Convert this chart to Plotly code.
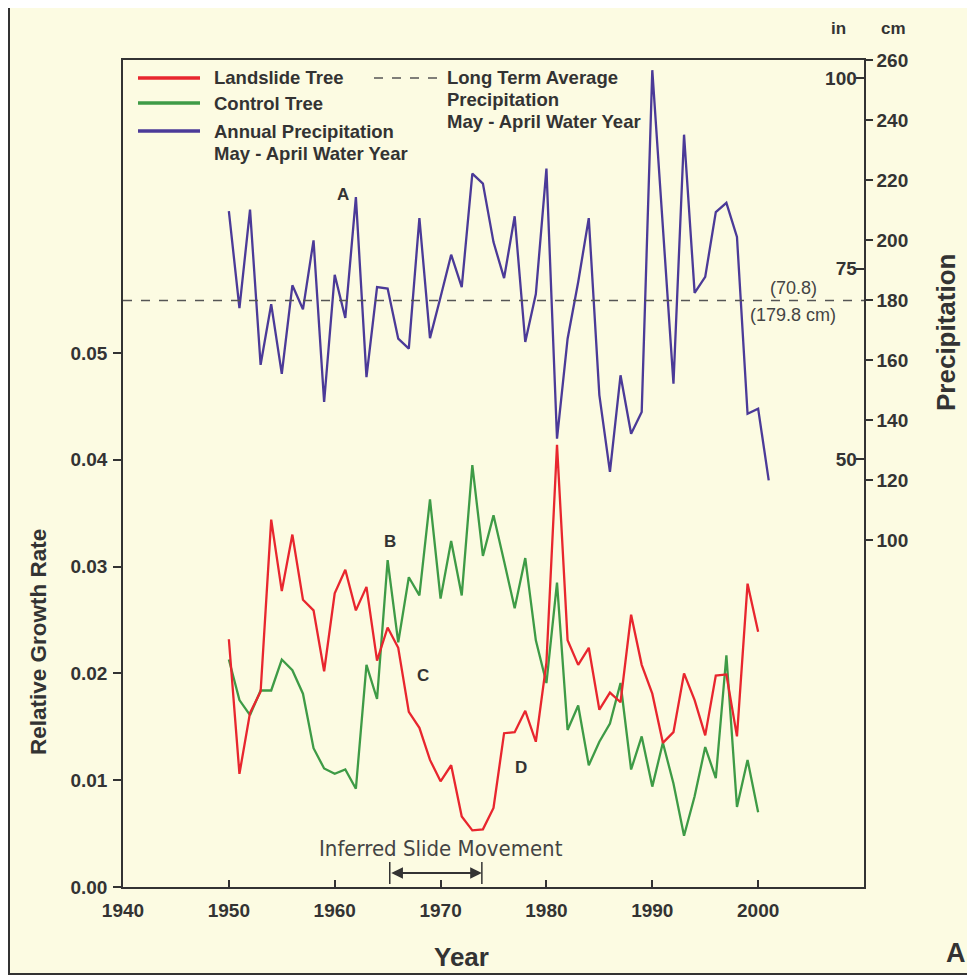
import plotly.graph_objects as go

# ---------------- data ----------------
years_growth = list(range(1950, 2001))
landslide_tree = [0.0232, 0.0106, 0.0163, 0.0183, 0.0344, 0.0277, 0.0330, 0.0269, 0.0259, 0.0202,
                  0.0275, 0.0297, 0.0259, 0.0281, 0.0212, 0.0243, 0.0224, 0.0164, 0.0149, 0.0119,
                  0.0099, 0.0114, 0.0066, 0.0053, 0.0054, 0.0074, 0.0144, 0.0145, 0.0165, 0.0136,
                  0.0210, 0.0414, 0.0231, 0.0208, 0.0224, 0.0166, 0.0182, 0.0173, 0.0255, 0.0208,
                  0.0181, 0.0135, 0.0145, 0.0200, 0.0175, 0.0142, 0.0198, 0.0199, 0.0141, 0.0284,
                  0.0239]
control_tree = [0.0213, 0.0175, 0.0161, 0.0184, 0.0184, 0.0213, 0.0203, 0.0181, 0.0130, 0.0111,
                0.0106, 0.0110, 0.0092, 0.0208, 0.0176, 0.0306, 0.0229, 0.0290, 0.0273, 0.0363,
                0.0270, 0.0324, 0.0273, 0.0395, 0.0310, 0.0348, 0.0305, 0.0261, 0.0308, 0.0231,
                0.0191, 0.0285, 0.0147, 0.0170, 0.0114, 0.0136, 0.0153, 0.0191, 0.0110, 0.0141,
                0.0094, 0.0135, 0.0097, 0.0048, 0.0085, 0.0131, 0.0102, 0.0217, 0.0075, 0.0119,
                0.0070]
years_precip = list(range(1950, 2002))
precip_cm = [209.6, 177.3, 210.1, 158.4, 178.6, 155.4, 184.9, 176.9, 199.9, 146.0,
             188.4, 174.0, 214.3, 154.3, 184.3, 183.8, 167.1, 163.8, 207.3, 167.3,
             181.0, 195.1, 184.3, 222.1, 218.8, 199.3, 187.3, 207.9, 166.0, 182.0,
             223.8, 133.8, 167.1, 186.0, 207.3, 148.3, 122.7, 154.9, 135.4, 142.7,
             256.6, 204.0, 152.1, 235.1, 182.4, 187.7, 209.3, 212.4, 201.0, 142.1,
             143.8, 119.9]
avg_precip_cm = 179.8
avg_precip_in = 70.8

x_ticks = [1940, 1950, 1960, 1970, 1980, 1990, 2000, 2010]
growth_ticks = [0.00, 0.01, 0.02, 0.03, 0.04, 0.05]
cm_ticks = [100, 120, 140, 160, 180, 200, 220, 240, 260]
in_ticks = [50, 75, 100]
slide_start, slide_end = 1965.2, 1973.9

# ---------------- style ----------------
BG = "#FCFBE2"
INK = "#333333"
RED = "#E8262E"
GREEN = "#3E9B46"
PURPLE = "#4B3A98"
SANS = "Liberation Sans, Arial, sans-serif"
NARROW = "Liberation Sans Narrow, Arial Narrow, DejaVu Sans Condensed, Liberation Sans, sans-serif"

OFF = 8                      # page body margin of the browser
W = H = 975 - OFF
L, R, T, B = 123 - OFF, 864 - OFF, 60 - OFF, 887 - OFF


def px(xp):
    return (xp - OFF - L) / (R - L)


def py(yp):
    return (B - (yp - OFF)) / (B - T)


fig = go.Figure()
fig.add_trace(go.Scatter(x=years_growth, y=control_tree, mode="lines",
                         line=dict(color=GREEN, width=2.3), yaxis="y", showlegend=False))
fig.add_trace(go.Scatter(x=years_growth, y=landslide_tree, mode="lines",
                         line=dict(color=RED, width=2.3), yaxis="y", showlegend=False))
fig.add_trace(go.Scatter(x=years_precip, y=precip_cm, mode="lines",
                         line=dict(color=PURPLE, width=2.3), yaxis="y2", showlegend=False))
fig.add_trace(go.Scatter(x=[1940, 2010], y=[avg_precip_cm, avg_precip_cm], mode="lines",
                         line=dict(color="#555555", width=1.5, dash="dash"), yaxis="y2",
                         showlegend=False))

TICKF = 19
cm_lo = 260 - (B - T) / 3.0
fig.update_layout(
    width=W, height=H,
    margin=dict(l=L, r=W - R, t=T, b=H - B),
    paper_bgcolor=BG, plot_bgcolor=BG,
    xaxis=dict(range=[1940, 2010], tickvals=x_ticks, ticks="inside", ticklen=7,
               tickwidth=1.5, tickcolor=INK, showline=True, linecolor=INK, linewidth=1.5,
               mirror=True, showgrid=False, zeroline=False, ticklabelstandoff=5,
               tickfont=dict(family=SANS, size=19, color=INK, weight="bold")),
    yaxis=dict(range=[0, (B - T) / 10680.0], tickvals=growth_ticks, tickformat=".2f",
               ticks="outside", ticklen=8, tickwidth=1.5, tickcolor=INK,
               showline=True, linecolor=INK, linewidth=1.5, showgrid=False, zeroline=False,
               ticklabelstandoff=2,
               tickfont=dict(family=SANS, size=TICKF, color=INK, weight="bold")),
    yaxis2=dict(range=[cm_lo, 260], tickvals=cm_ticks, overlaying="y", side="right",
                anchor="x", ticks="outside", ticklen=7, tickwidth=1.5, tickcolor=INK,
                showline=True, linecolor=INK, linewidth=1.5, showgrid=False, zeroline=False,
                tickfont=dict(family=SANS, size=TICKF, color=INK, weight="bold")),
    yaxis3=dict(range=[cm_lo / 2.54, 260 / 2.54], tickvals=in_ticks, overlaying="y",
                side="right", anchor="x", ticks="inside", ticklen=8, tickwidth=1.5,
                tickcolor=INK, ticklabelposition="inside", showline=False, showgrid=False,
                zeroline=False,
                tickfont=dict(family=SANS, size=TICKF, color=INK, weight="bold")),
)
# invisible trace to activate yaxis3
fig.add_trace(go.Scatter(x=[years_precip[0]], y=[precip_cm[0] / 2.54], mode="lines",
                         yaxis="y3", line=dict(width=0), hoverinfo="skip", showlegend=False))

shapes = []
# outer frame
shapes.append(dict(type="rect", xref="paper", yref="paper", x0=px(9), x1=px(1000),
                   y0=py(974), y1=py(6), line=dict(color=INK, width=2), fillcolor="rgba(0,0,0,0)"))
# legend samples
for yy, col in [(78, RED), (103, GREEN), (131, PURPLE)]:
    shapes.append(dict(type="line", xref="paper", yref="paper", x0=px(138), x1=px(200),
                       y0=py(yy), y1=py(yy), line=dict(color=col, width=3.5)))
shapes.append(dict(type="line", xref="paper", yref="paper", x0=px(374), x1=px(438),
                   y0=py(78), y1=py(78), line=dict(color="#555555", width=1.5, dash="dash")))
# slide movement bars
for xx in [slide_start, slide_end]:
    shapes.append(dict(type="line", xref="x", yref="paper", x0=xx, x1=xx,
                       y0=py(884), y1=py(862), line=dict(color=INK, width=1.5)))
fig.update_layout(shapes=shapes)

ann = []


def text(xp, yp, s, size=16, family=SANS, bold=True, xanchor="center", angle=0, color=INK):
    ann.append(dict(xref="paper", yref="paper", x=px(xp), y=py(yp), text=s, showarrow=False,
                    xanchor=xanchor, yanchor="middle", textangle=angle,
                    font=dict(family=family, size=size, color=color,
                              weight="bold" if bold else "normal")))


# legend texts
LEG = 18.5
text(212, 78, "Landslide Tree", size=LEG, xanchor="left")
text(212, 103, "Control Tree", size=LEG, xanchor="left")
text(212, 131, "Annual Precipitation", size=LEG, xanchor="left")
text(212, 153, "May - April Water Year", size=LEG, xanchor="left")
text(445, 78, "Long Term Average", size=LEG, xanchor="left")
text(445, 100, "Precipitation", size=LEG, xanchor="left")
text(445, 121, "May - April Water Year", size=LEG, xanchor="left")
# axis titles
text(38, 642, "Relative Growth Rate", size=22.5, angle=-90)
text(946, 333, "Precipitation", size=26, angle=-90)
text(461, 957, "Year", size=26)
text(838, 28, "in", size=17)
text(893, 28, "cm", size=17)
text(956, 953, "A", size=27)
# average labels
text(793, 288, "(%.1f)" % avg_precip_in, size=18, bold=False, color="#444444")
text(793, 315, "(%.1f cm)" % avg_precip_cm, size=18, bold=False, color="#444444")
# point labels
text(343, 194, "A", size=17)
text(390, 541, "B", size=17)
text(423, 675, "C", size=17)
text(521, 767, "D", size=17)
# slide movement
text(441, 848, "Inferred Slide Movement", size=22, family=NARROW, bold=False, color="#444444")
ann.append(dict(xref="x", yref="paper", axref="x", ayref="pixel", x=slide_end, y=py(873),
                ax=slide_start, ay=0, text="", showarrow=True, arrowhead=2,
                arrowside="end+start", arrowsize=1.3, arrowwidth=1.8, arrowcolor=INK))
fig.update_layout(annotations=ann)

fig.write_html("out.html")
